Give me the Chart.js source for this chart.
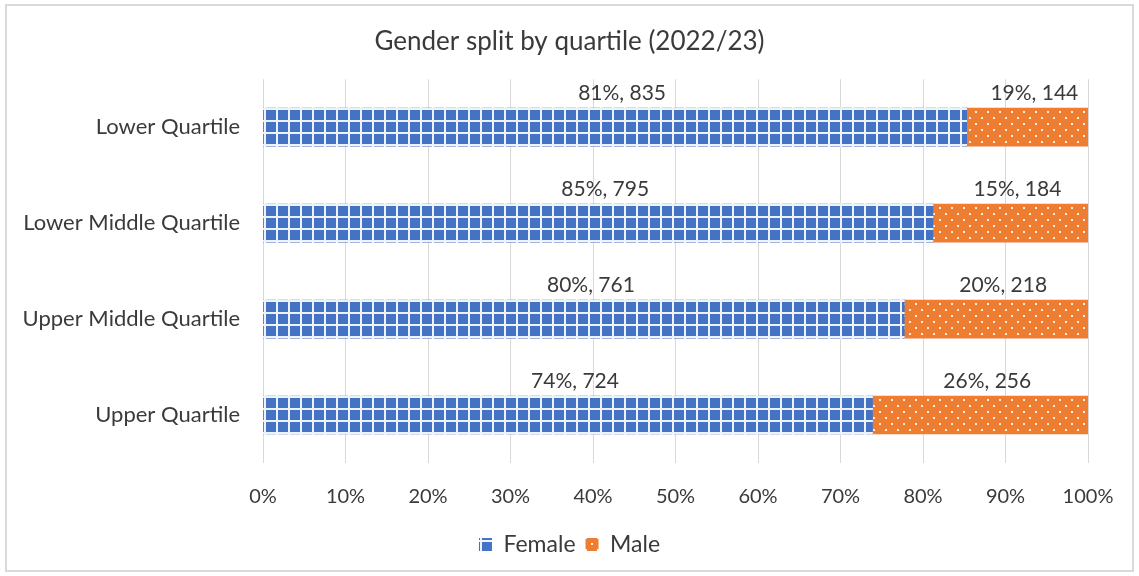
<!DOCTYPE html>
<html>
<head>
<meta charset="utf-8">
<script src="https://cdn.jsdelivr.net/npm/chart.js@4"></script>
<style>
  html, body { margin: 0; padding: 0; background: #fff; }
  #wrap { width: 1139px; height: 576px; position: relative; }
</style>
</head>
<body>
<div id="wrap"><canvas id="grafico" width="1139" height="576"></canvas></div>
<script>
const quartis = ['Lower Quartile', 'Lower Middle Quartile', 'Upper Middle Quartile', 'Upper Quartile'];
const feminino = [835, 795, 761, 724];
const masculino = [144, 184, 218, 256];
// percentages as printed on the labels
const pctFeminino = [81, 85, 80, 74];
const pctMasculino = [19, 15, 20, 26];
const ticksX = ['0%', '10%', '20%', '30%', '40%', '50%', '60%', '70%', '80%', '90%', '100%'];

const totais = feminino.map((f, i) => f + masculino[i]);
const fracFem = feminino.map((f, i) => f / totais[i] * 100);
const fracMasc = masculino.map((m, i) => m / totais[i] * 100);

const fonte = 'Lato, "Open Sans", sans-serif';
const corTexto = '#3a3a3a';

function padraoGrade() {
  const c = document.createElement('canvas');
  c.width = 12; c.height = 12;
  const g = c.getContext('2d');
  g.fillStyle = '#eef2fa';
  g.fillRect(0, 0, 12, 12);
  g.fillStyle = '#4472C4';
  g.fillRect(2, 2, 10, 10);
  return g.createPattern(c, 'repeat');
}

function padraoPontos() {
  const c = document.createElement('canvas');
  c.width = 12; c.height = 12;
  const g = c.getContext('2d');
  g.fillStyle = '#ED7D31';
  g.fillRect(0, 0, 12, 12);
  g.fillStyle = 'rgba(255,255,255,0.85)';
  g.fillRect(3, 3, 2, 2);
  g.fillRect(9, 9, 2, 2);
  return g.createPattern(c, 'repeat');
}

const rotulos = {
  id: 'rotulos',
  afterDatasetsDraw(chart) {
    const ctx = chart.ctx;
    ctx.save();
    ctx.font = '21px ' + fonte;
    ctx.fillStyle = corTexto;
    ctx.textAlign = 'center';
    ctx.textBaseline = 'bottom';
    chart.data.datasets.forEach((ds, di) => {
      const meta = chart.getDatasetMeta(di);
      meta.data.forEach((bar, i) => {
        const txt = ds.pct[i] + '%, ' + ds.qtd[i];
        const cx = (bar.base + bar.x) / 2 + 7;
        ctx.fillText(txt, cx, bar.y - bar.height / 2 - 4);
      });
    });
    ctx.restore();
  }
};

const moldura = {
  id: 'moldura',
  beforeDraw(chart) {
    const ctx = chart.ctx;
    ctx.save();
    ctx.fillStyle = '#fff';
    ctx.fillRect(0, 0, chart.width, chart.height);
    ctx.strokeStyle = '#D9D9D9';
    ctx.lineWidth = 2;
    ctx.strokeRect(6, 5, 1127, 566);
    ctx.restore();
  }
};

const ctx = document.getElementById('grafico').getContext('2d');
new Chart(ctx, {
  type: 'bar',
  data: {
    labels: quartis,
    datasets: [{
      label: 'Female',
      data: fracFem,
      qtd: feminino,
      pct: pctFeminino,
      backgroundColor: padraoGrade(),
      borderWidth: 0
    }, {
      label: 'Male',
      data: fracMasc,
      qtd: masculino,
      pct: pctMasculino,
      backgroundColor: padraoPontos(),
      borderWidth: 0
    }]
  },
  options: {
    indexAxis: 'y',
    responsive: false,
    animation: false,
    layout: { padding: { left: 0, right: 0, top: 20, bottom: 10 } },
    scales: {
      x: {
        stacked: true,
        min: 0,
        max: 100,
        grid: { color: '#D9D9D9', lineWidth: 1, drawTicks: false },
        border: { display: false },
        ticks: {
          stepSize: 10,
          padding: 22,
          color: corTexto,
          font: { size: 20, family: fonte },
          callback: (v, i) => ticksX[i]
        },
        afterFit(scale) { scale.height = 60; }
      },
      y: {
        stacked: true,
        grid: { display: false, drawTicks: false },
        border: { display: false },
        ticks: {
          padding: 23,
          color: corTexto,
          font: { size: 22, family: fonte }
        },
        afterFit(scale) { scale.width = 263; }
      },
      // empty right-hand axis keeps title and legend centred on the page
      margem: {
        type: 'category',
        axis: 'y',
        position: 'right',
        grid: { display: false, drawTicks: false },
        border: { display: false },
        ticks: { display: false },
        afterFit(scale) { scale.width = 51; }
      }
    },
    datasets: { bar: { barThickness: 38 } },
    plugins: {
      title: {
        display: true,
        text: 'Gender split by quartile (2022/23)',
        color: corTexto,
        font: { size: 26, family: fonte, weight: 'normal' },
        padding: { top: 6, bottom: 22 }
      },
      legend: {
        position: 'bottom',
        labels: {
          boxWidth: 13,
          boxHeight: 13,
          padding: 10,
          color: corTexto,
          font: { size: 23, family: fonte }
        }
      },
      tooltip: { enabled: false }
    }
  },
  plugins: [moldura, rotulos]
});
</script>
</body>
</html>
